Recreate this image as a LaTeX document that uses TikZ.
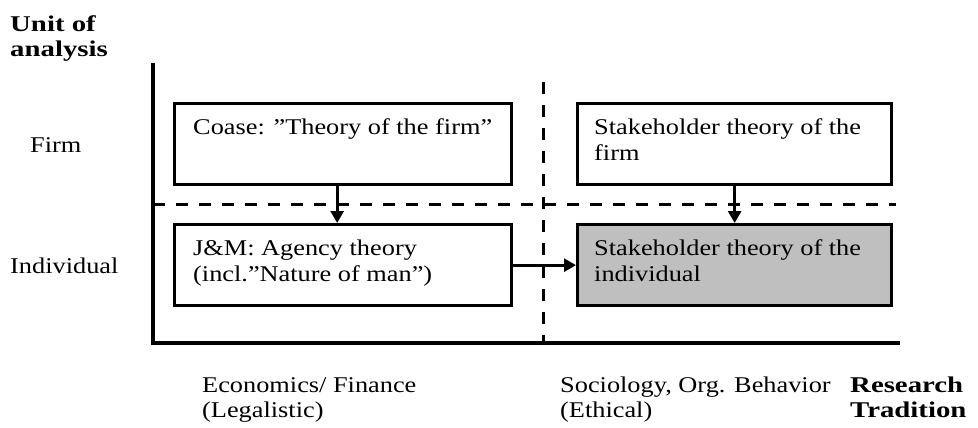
\documentclass[tikz,border=0pt]{standalone}
\usepackage{fontspec}
\setmainfont[FakeStretch=1.17, BoldFeatures={FakeStretch=1.28}]{Liberation Serif}
\usetikzlibrary{arrows.meta}
\begin{document}
\begin{tikzpicture}[x=1pt,y=-1pt,
  font=\fontsize{22.5pt}{25pt}\selectfont,
  theorybox/.style={draw, line width=3.3pt, inner sep=0pt,
    minimum height=81pt, anchor=north west},
  leftbox/.style={theorybox, minimum width=337pt},
  rightbox/.style={theorybox, minimum width=314pt},
  axisline/.style={line width=3.3pt},
  divider/.style={line width=3pt, dash pattern=on 12pt off 11pt},
  flow/.style={line width=2.8pt, -{Triangle[length=12pt,width=13pt]}},
  lbl/.style={inner sep=0pt, anchor=base west, align=left},
  bold/.style={lbl, font=\fontsize{22.5pt}{25pt}\selectfont\bfseries}]
\useasboundingbox (0,0) rectangle (978,428);

% axes
\coordinate (axtop) at (153,63);
\coordinate (origin) at (153,343);
\coordinate (axend) at (900,343);
\draw[axisline] (axtop) -- (origin) -- (axend);

% dividing lines between levels and traditions
\coordinate (hdL) at (153,204);
\coordinate (hdR) at (896,204);
\coordinate (vdT) at (543,82);
\coordinate (vdB) at (543,343);
\draw[divider] (hdL) -- (hdR);
\draw[divider] (vdT) -- (vdB);

% theory boxes
\node[leftbox] (coase) at (173,102) {};
\node[leftbox] (jm) at (173,223) {};
\node[rightbox] (stfirm) at (576,102) {};
\node[rightbox, fill=black!25] (stind) at (576,223) {};

% box texts (anchored at the baseline of their last line)
\node[lbl] (coaseT) at ([xshift=20pt,yshift=-32pt]coase.north west) {Coase: ”Theory of the firm”};
\node[lbl] (jmT) at ([xshift=20pt,yshift=-58pt]jm.north west) {J\&M: Agency theory\\[1pt](incl.”Nature of man”)};
\node[lbl] (stfirmT) at ([xshift=18pt,yshift=-58pt]stfirm.north west) {Stakeholder theory of the\\[1pt]firm};
\node[lbl] (stindT) at ([xshift=18pt,yshift=-58pt]stind.north west) {Stakeholder theory of the\\[1pt]individual};

% influences
\draw[flow] ([xshift=-6pt]coase.south) -- ([xshift=-6pt]jm.north);
\draw[flow] (stfirm.south) -- (stind.north);
\draw[flow] (jm.east) -- (stind.west);

% axis labels
\node[bold] (unit) at (10,57) {Unit of\\analysis};
\node[lbl] (firm) at (30,152) {Firm};
\node[lbl] (indiv) at (10,273) {Individual};
\node[lbl] (econ) at (202,417) {Economics/ Finance\\(Legalistic)};
\node[lbl] (socio) at (560,417) {Sociology, Org. Behavior\\(Ethical)};
\node[bold] (tradition) at (850,417) {Research\\Tradition};
\end{tikzpicture}
\end{document}
